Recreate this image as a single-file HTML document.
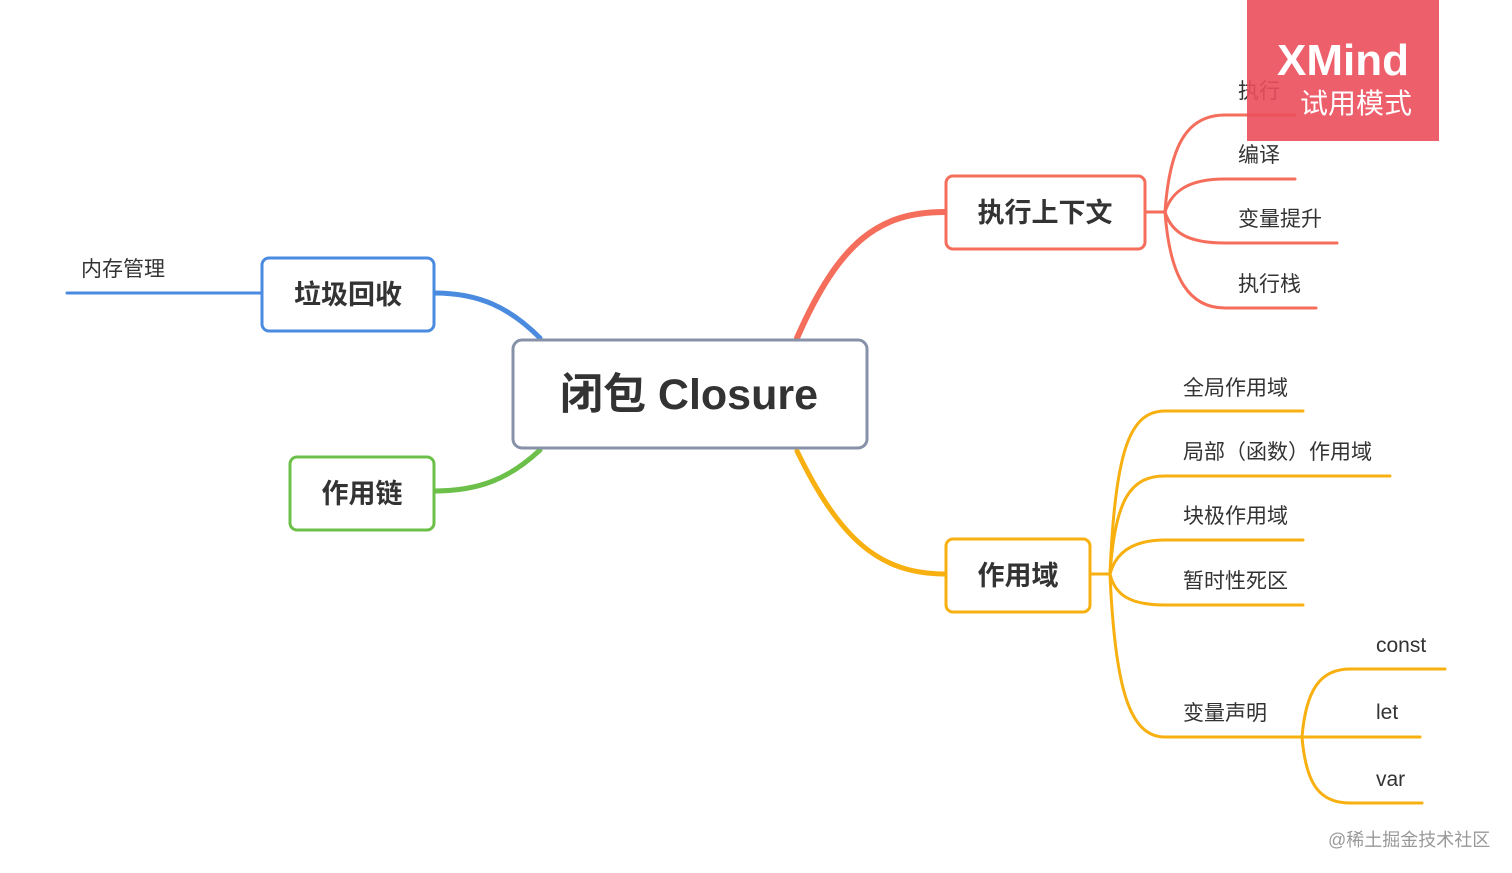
<!DOCTYPE html>
<html><head><meta charset="utf-8"><style>
html,body{margin:0;padding:0;background:#fff;width:1512px;height:873px;overflow:hidden}
svg text{font-family:"Liberation Sans","Noto Sans CJK SC",sans-serif}
</style></head><body>
<svg width="1512" height="873" viewBox="0 0 1512 873" xmlns="http://www.w3.org/2000/svg">
<g fill="none" stroke-linecap="round">
<path d="M797 338 C840 240 880 212 945 212" stroke="#f56d5b" stroke-width="6"/>
<path d="M797 451 C840 540 880 574 945 574" stroke="#f7b00f" stroke-width="5"/>
<path d="M434 293 C480 293 510 308 540 338" stroke="#4a8be0" stroke-width="5"/>
<path d="M434 491 C480 491 510 478 540 450" stroke="#6cc04a" stroke-width="5"/>
<path d="M67 293 H261" stroke="#4a8be0" stroke-width="3"/>
<g stroke="#f56d5b" stroke-width="3">
<path d="M1145 212 H1165"/>
<path d="M1165 212 C1170 140 1190 115 1225 115 H1295"/>
<path d="M1165 212 C1172 190 1190 179 1225 179 H1295"/>
<path d="M1165 212 C1172 234 1190 243 1225 243 H1337"/>
<path d="M1165 212 C1170 280 1190 308 1225 308 H1316"/>
</g>
<g stroke="#f7b00f" stroke-width="3">
<path d="M1090 574 H1110"/>
<path d="M1110 574 C1115 450 1130 411 1165 411 H1303"/>
<path d="M1110 574 C1115 500 1130 476 1165 476 H1390"/>
<path d="M1110 574 C1115 555 1130 540 1165 540 H1303"/>
<path d="M1110 574 C1115 595 1130 605 1165 605 H1303"/>
<path d="M1110 574 C1115 690 1130 737 1165 737 H1302"/>
<path d="M1302 737 C1306 690 1320 669 1350 669 H1445"/>
<path d="M1302 737 H1420"/>
<path d="M1302 737 C1306 785 1320 803 1350 803 H1422"/>
</g>
</g>
<rect x="513" y="340" width="354" height="108" rx="9" fill="#fff" stroke="#8792a8" stroke-width="3"/>
<text x="689" y="409" font-size="43" font-weight="bold" fill="#333" text-anchor="middle">闭包 Closure</text>
<rect x="946" y="176" width="199" height="73" rx="7" fill="#fff" stroke="#f56d5b" stroke-width="3"/>
<text x="1045" y="222" font-size="27" font-weight="bold" fill="#333" text-anchor="middle">执行上下文</text>
<rect x="946" y="539" width="144" height="73" rx="7" fill="#fff" stroke="#f7b00f" stroke-width="3"/>
<text x="1018" y="585" font-size="27" font-weight="bold" fill="#333" text-anchor="middle">作用域</text>
<rect x="262" y="258" width="172" height="73" rx="7" fill="#fff" stroke="#4a8be0" stroke-width="3"/>
<text x="348" y="304" font-size="27" font-weight="bold" fill="#333" text-anchor="middle">垃圾回收</text>
<rect x="290" y="457" width="144" height="73" rx="7" fill="#fff" stroke="#6cc04a" stroke-width="3"/>
<text x="362" y="503" font-size="27" font-weight="bold" fill="#333" text-anchor="middle">作用链</text>
<g font-size="21" fill="#333">
<text x="81" y="276">内存管理</text>
<text x="1238" y="98">执行</text>
<text x="1238" y="162">编译</text>
<text x="1238" y="226">变量提升</text>
<text x="1238" y="291">执行栈</text>
<text x="1183" y="395">全局作用域</text>
<text x="1183" y="459">局部（函数）作用域</text>
<text x="1183" y="523">块极作用域</text>
<text x="1183" y="588">暂时性死区</text>
<text x="1183" y="720">变量声明</text>
<text x="1376" y="652">const</text>
<text x="1376" y="719">let</text>
<text x="1376" y="786">var</text>
</g>
<rect x="1247" y="0" width="192" height="141" fill="#ec4e5c" opacity="0.9"/>
<text x="1343" y="75" font-size="44" font-weight="bold" fill="#fff" text-anchor="middle">XMind</text>
<text x="1356" y="113" font-size="28" fill="#fff" text-anchor="middle">试用模式</text>
<text x="1328" y="846" font-size="18" fill="#999">@稀土掘金技术社区</text>
</svg>
</body></html>
